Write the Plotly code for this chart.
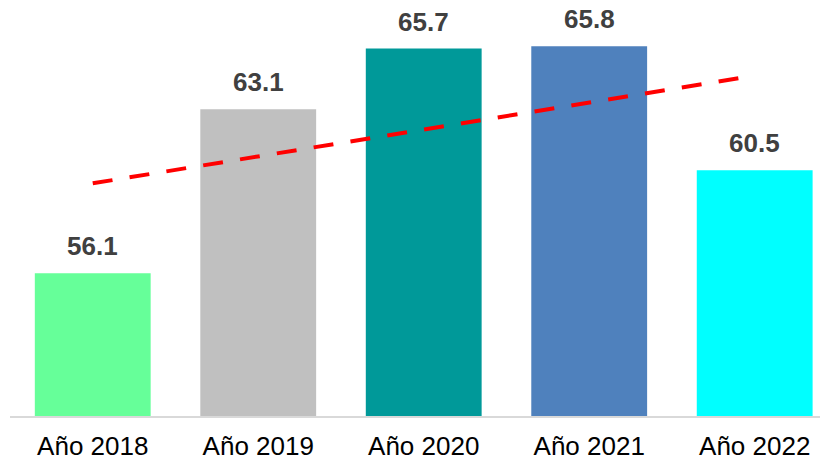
import numpy as np
import plotly.graph_objects as go

categories = ["Año 2018", "Año 2019", "Año 2020", "Año 2021", "Año 2022"]
values = [56.1, 63.1, 65.7, 65.8, 60.5]
bar_colors = ["#66FF99", "#C0C0C0", "#009999", "#4F81BD", "#00FFFF"]

idx = list(range(len(categories)))
slope, intercept = np.polyfit(idx, values, 1)
trend_x = [idx[0], idx[-1]]
trend_y = [intercept + slope * x for x in trend_x]

fig = go.Figure()
fig.add_trace(go.Bar(x=idx, y=values, marker=dict(color=bar_colors, line=dict(width=0)),
                     showlegend=False, hoverinfo="skip"))
fig.add_trace(go.Scatter(x=trend_x, y=trend_y, mode="lines",
                         line=dict(color="#FF0000", width=4, dash="20px,17.3px"),
                         showlegend=False, hoverinfo="skip"))

for x, v in zip(idx, values):
    fig.add_annotation(x=x, y=v, text=f"<b>{v:.1f}</b>", showarrow=False,
                       yanchor="bottom", yshift=11, borderpad=0,
                       font=dict(family="Liberation Sans, Arial", size=26, color="#404040"))

fig.update_layout(
    width=820, height=453,
    margin=dict(l=2, r=0, t=0, b=45),
    paper_bgcolor="white", plot_bgcolor="white",
    bargap=0.3,
    font=dict(family="Liberation Sans, Arial", color="#000000"),
    xaxis=dict(range=[-0.5, 4.443], tickmode="array", tickvals=idx, ticktext=categories,
               showline=True, linecolor="#D9D9D9", linewidth=1.5, showgrid=False,
               zeroline=False, ticks="outside", ticklen=6, tickcolor="rgba(0,0,0,0)",
               tickfont=dict(size=26, color="#000000")),
    yaxis=dict(range=[50, 67.43], visible=False, showgrid=False, zeroline=False),
)

fig.write_html("out.html")
